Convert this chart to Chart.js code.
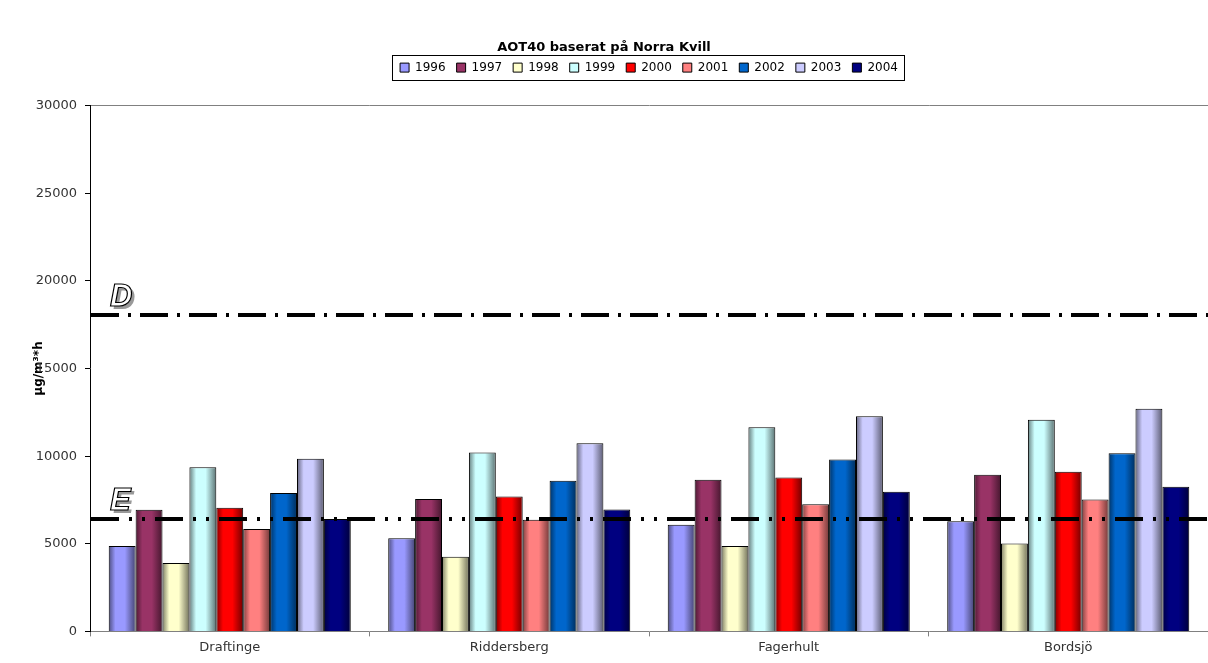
<!DOCTYPE html>
<html>
<head>
<meta charset="utf-8">
<script src="https://cdn.jsdelivr.net/npm/chart.js@4"></script>
<style>
  html, body { margin: 0; padding: 0; background: #fff; }
  #wrap { width: 1208px; height: 663px; }
</style>
</head>
<body>
<div id="wrap"><canvas id="chart" width="1208" height="663"></canvas></div>
<script>
// Sites on the x axis
const sites = ['Draftinge', 'Riddersberg', 'Fagerhult', 'Bordsjö'];

// AOT40 per year, one array per year (values in order of the sites)
const years = ['1996', '1997', '1998', '1999', '2000', '2001', '2002', '2003', '2004'];
const v1996 = [4870, 5320, 6090, 6290];
const v1997 = [6940, 7550, 8650, 8940];
const v1998 = [3900, 4260, 4870, 5020];
const v1999 = [9370, 10210, 11650, 12080];
const v2000 = [7060, 7700, 8780, 9110];
const v2001 = [5840, 6370, 7260, 7530];
const v2002 = [7890, 8600, 9810, 10170];
const v2003 = [9850, 10740, 12280, 12700];
const v2004 = [6410, 6960, 7970, 8250];
const seriesValues = [v1996, v1997, v1998, v1999, v2000, v2001, v2002, v2003, v2004];

// Excel-ish palette
const yearColors = ['#9999FF', '#993366', '#FFFFCC', '#CCFFFF', '#FF0000', '#FF8080', '#0066CC', '#CCCCFF', '#000080'];

// Threshold lines D and E
const thresholdLabels = ['D', 'E'];
const thresholdValues = [18050, 6400];
const thresholdDash = [[28, 9, 3, 9], [28, 10, 3, 10, 3, 10]];

const yTicks = [0, 5000, 10000, 15000, 20000, 25000, 30000];

const CAT_PCT = 0.866;

// darken a hex color by factor f
function shade(hex, f) {
    const n = parseInt(hex.slice(1), 16);
    const r = Math.round(((n >> 16) & 255) * f);
    const g = Math.round(((n >> 8) & 255) * f);
    const b = Math.round((n & 255) * f);
    return `rgb(${r},${g},${b})`;
}

// horizontal gradient per bar, to fake the shaded Excel columns
function barFill(ctx) {
    const chart = ctx.chart;
    const xs = chart.scales.x;
    const base = yearColors[ctx.datasetIndex];
    if (!xs || ctx.dataIndex === undefined) return base;
    const catW = xs.width / sites.length;
    const barW = catW * CAT_PCT / years.length;
    const center = xs.getPixelForValue(ctx.dataIndex);
    const left = center - catW * CAT_PCT / 2 + ctx.datasetIndex * barW;
    const g = chart.ctx.createLinearGradient(left, 0, left + barW, 0);
    g.addColorStop(0, shade(base, 0.5));
    g.addColorStop(0.25, base);
    g.addColorStop(0.6, base);
    g.addColorStop(1, shade(base, 0.45));
    return g;
}

// draws D / E lines, their letters and the legend frame
const decorations = {
    id: 'decorations',
    afterDatasetsDraw(chart) {
        const {ctx, chartArea} = chart;
        const y = chart.scales.y;
        ctx.save();
        thresholdValues.forEach((val, i) => {
            const py = Math.round(y.getPixelForValue(val));
            ctx.strokeStyle = '#000';
            ctx.lineWidth = 4;
            ctx.setLineDash(thresholdDash[i]);
            ctx.beginPath();
            ctx.moveTo(chartArea.left + 1, py);
            ctx.lineTo(chartArea.right, py);
            ctx.stroke();
            ctx.setLineDash([]);

            ctx.font = 'italic bold 31px "Liberation Sans"';
            ctx.textBaseline = 'alphabetic';
            ctx.textAlign = 'left';
            const tx = chartArea.left + 20, ty = py - 9;
            ctx.fillStyle = '#999';
            ctx.fillText(thresholdLabels[i], tx + 3, ty + 3);
            ctx.fillStyle = '#fff';
            ctx.fillText(thresholdLabels[i], tx, ty);
            ctx.strokeStyle = '#000';
            ctx.lineWidth = 1.2;
            ctx.strokeText(thresholdLabels[i], tx, ty);
        });
        ctx.restore();
    },
    afterDraw(chart) {
        const boxes = chart.legend && chart.legend.legendHitBoxes;
        if (!boxes || !boxes.length) return;
        const ctx = chart.ctx;
        const first = boxes[0], last = boxes[boxes.length - 1];
        ctx.save();
        ctx.strokeStyle = '#000';
        ctx.lineWidth = 1;
        ctx.strokeRect(Math.round(first.left) - 7.5, Math.round(first.top) - 6.5,
            Math.round(last.left + last.width - first.left) + 14, Math.round(first.height) + 13);
        ctx.restore();
    }
};

new Chart(document.getElementById('chart'), {
    type: 'bar',
    data: {
        labels: sites,
        datasets: years.map((yr, i) => ({
            label: yr,
            data: seriesValues[i],
            backgroundColor: barFill,
            borderColor: '#000',
            borderWidth: 1,
            categoryPercentage: CAT_PCT,
            barPercentage: 1
        }))
    },
    options: {
        responsive: false,
        animation: false,
        layout: {padding: {top: 0, right: 0, bottom: 5, left: 0}},
        plugins: {
            tooltip: {enabled: false},
            title: {
                display: true,
                text: 'AOT40 baserat på Norra Kvill',
                color: '#000',
                font: {family: '"DejaVu Sans"', size: 13, weight: 'bold'},
                padding: {top: 40, bottom: -5}
            },
            legend: {
                display: true,
                fullSize: false,
                labels: {
                    color: '#000',
                    font: {family: '"DejaVu Sans"', size: 12},
                    boxWidth: 9,
                    boxHeight: 9,
                    padding: 11,
                    generateLabels(chart) {
                        return years.map((yr, i) => ({
                            text: yr,
                            fillStyle: yearColors[i],
                            strokeStyle: '#000',
                            lineWidth: 1,
                            datasetIndex: i
                        }));
                    }
                }
            }
        },
        scales: {
            x: {
                grid: {drawOnChartArea: false, offset: true, tickLength: 5, color: '#808080'},
                border: {color: '#808080'},
                ticks: {color: '#333', font: {family: '"DejaVu Sans"', size: 13}, padding: 3}
            },
            // top border of the plot area, also gives the gap under the legend
            xTop: {
                type: 'category',
                position: 'top',
                grid: {drawOnChartArea: false, drawTicks: false},
                border: {color: '#808080'},
                ticks: {display: false},
                afterFit(scale) { scale.height = 22; }
            },
            y: {
                min: 0,
                max: 30000,
                afterBuildTicks(scale) { scale.ticks = yTicks.map(v => ({value: v})); },
                afterFit(scale) { scale.width = 90; },
                grid: {drawOnChartArea: false, tickLength: 5, color: '#000'},
                border: {color: '#000'},
                ticks: {
                    color: '#333',
                    font: {family: '"DejaVu Sans"', size: 13},
                    padding: 8,
                    callback: v => String(v)
                },
                title: {
                    display: true,
                    text: 'µg/m³*h',
                    color: '#000',
                    font: {family: '"DejaVu Sans"', size: 12, weight: 'bold'},
                    padding: {top: 32}
                }
            }
        }
    },
    plugins: [decorations]
});
</script>
</body>
</html>
